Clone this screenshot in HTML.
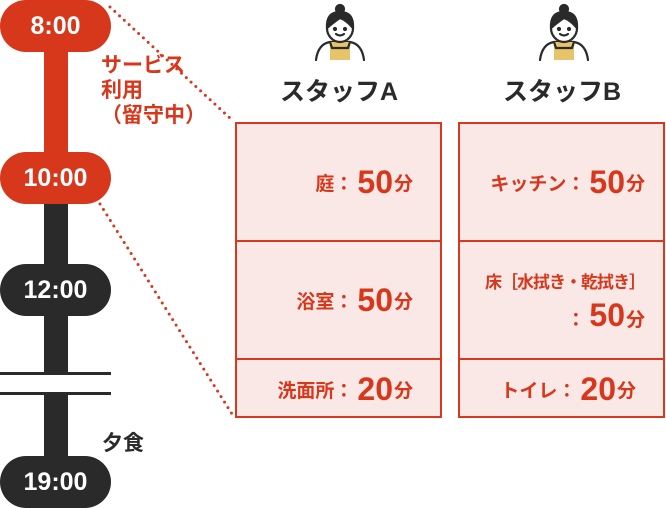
<!DOCTYPE html>
<html><head><meta charset="utf-8"><style>
body{margin:0;width:666px;height:508px;position:relative;background:#fff;font-family:"Liberation Sans","Noto Sans CJK JP",sans-serif;overflow:hidden}
.pill{position:absolute;left:0;width:111px;height:52px;border-radius:26px;color:#fff;font-weight:bold;font-size:25px;text-align:center;line-height:52px}
.r{background:#d7381c}.k{background:#2b2a2a}
.stem{position:absolute;left:44px;width:24px}
.box{position:absolute;border:2px solid #d6391f;background:#f9e8e6;box-sizing:border-box}
.cell{position:absolute;left:0;right:0;border-bottom:2px solid #d6391f;color:#d7381c;font-weight:bold;font-size:19px;display:flex;align-items:center;justify-content:flex-end;padding-right:27px;box-sizing:border-box;text-align:right;white-space:nowrap}
.cell b{font-size:32px;margin:0 1px 0 4px}
.hd{position:absolute;top:72px;font-size:25px;font-weight:bold;color:#2b2a2a;width:200px;text-align:center}
</style></head><body>
<svg width="666" height="508" style="position:absolute;left:0;top:0">
<line x1="110" y1="7" x2="232" y2="120" stroke="#d7381c" stroke-width="3" stroke-dasharray="0 6.5" stroke-linecap="round"/>
<line x1="100" y1="204" x2="232" y2="414" stroke="#d7381c" stroke-width="3" stroke-dasharray="0 6.5" stroke-linecap="round"/>
<g id="p" fill="none" stroke="#2b2a2a" stroke-width="2.2" stroke-linecap="round">
<path d="M316 60 Q318 44 330 42 L350 42 Q362 44 364 60" />
<path d="M330 42 L330 60 L350 60 L350 42" fill="#e8c36a" stroke="none"/>
<path d="M330 42 L332 48 L348 48 L350 42"/>
<ellipse cx="340" cy="28" rx="13" ry="14" fill="#fff"/>
<path d="M327 28 Q326 12 340 12 Q354 12 353 28 Q346 20 340 18 Q334 22 327 28Z" fill="#2b2a2a"/>
<circle cx="340" cy="9" r="4" fill="#2b2a2a"/>
<circle cx="335" cy="29" r="1" fill="#2b2a2a"/><circle cx="345" cy="29" r="1" fill="#2b2a2a"/>
<path d="M336 34 Q340 37 344 34"/>
</g>
<use href="#p" x="224"/>
</svg>
<div class="stem r" style="top:40px;height:120px"></div>
<div class="stem k" style="top:195px;height:178px"></div>
<div class="stem k" style="top:392px;height:70px"></div>
<div style="position:absolute;left:0;top:372px;width:111px;height:3px;background:#2b2a2a"></div>
<div style="position:absolute;left:0;top:392px;width:111px;height:3px;background:#2b2a2a"></div>
<div class="pill r" style="top:0">8:00</div>
<div class="pill r" style="top:152px">10:00</div>
<div class="pill k" style="top:264px">12:00</div>
<div class="pill k" style="top:456px">19:00</div>
<div style="position:absolute;left:101px;top:53px;color:#d7381c;font-weight:bold;font-size:21px;line-height:25px">サービス<br>利用<br>（留守中）</div>
<div style="position:absolute;left:102px;top:427px;color:#2b2a2a;font-weight:bold;font-size:21px">夕食</div>
<div class="hd" style="left:239px">スタッフA</div>
<div class="hd" style="left:462px">スタッフB</div>
<div class="box" style="left:235px;top:122px;width:207px;height:296px">
<div class="cell" style="top:0;height:118px">庭：<b>50</b>分</div>
<div class="cell" style="top:118px;height:118px">浴室：<b>50</b>分</div>
<div class="cell" style="top:236px;height:58px;border:0">洗面所：<b>20</b>分</div>
</div>
<div class="box" style="left:458px;top:122px;width:207px;height:296px">
<div class="cell" style="top:0;height:118px;padding-right:18px">キッチン：<b>50</b>分</div>
<div class="cell" style="top:118px;height:118px;padding-right:18px;line-height:32px;display:block;padding-top:25px"><span style="font-size:17px;letter-spacing:-1px">床［水拭き・乾拭き］</span><br>：<b>50</b>分</div>
<div class="cell" style="top:236px;height:58px;border:0;padding-right:27px">トイレ：<b>20</b>分</div>
</div>
</body></html>
